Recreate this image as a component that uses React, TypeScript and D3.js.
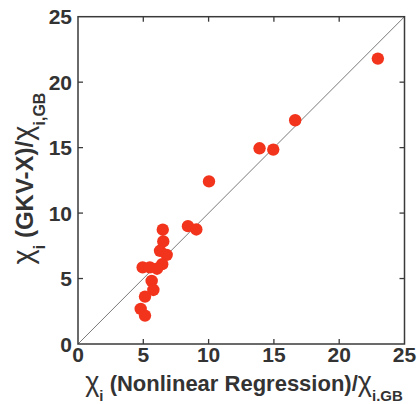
import React from "react";
import * as d3 from "d3";

const xValues = [22.96, 16.63, 13.9, 14.95, 10.03, 8.42, 9.06, 6.49, 6.53, 6.28, 6.79, 6.45, 6.05, 4.95, 5.5, 5.64, 5.77, 5.13, 4.8, 5.13];
const yValues = [21.8, 17.09, 14.95, 14.85, 12.42, 9.0, 8.75, 8.73, 7.83, 7.12, 6.81, 6.1, 5.75, 5.85, 5.85, 4.82, 4.13, 3.62, 2.68, 2.17];
const tickValues = [0, 5, 10, 15, 20, 25];
const domainMin = 0;
const domainMax = 25;

const W = 417;
const H = 404;
const left = 78;
const right = 404.5;
const top = 16.7;
const bottom = 344;

export default function App() {
  const x = d3.scaleLinear().domain([domainMin, domainMax]).range([left, right]);
  const y = d3.scaleLinear().domain([domainMin, domainMax]).range([bottom, top]);
  const font = "'Liberation Sans', Arial, Helvetica, sans-serif";
  const axisColor = "#3a3a3a";
  const textColor = "#333";
  const tickLen = 5;
  const inner = tickValues.filter((t) => t > domainMin && t < domainMax);

  return (
    <svg width={W} height={H} style={{ position: "absolute", left: 0, top: 0 }}>
      <rect width={W} height={H} fill="#fff" />
      <line x1={x(0)} y1={y(0)} x2={x(25)} y2={y(25)} stroke="#7a7a7a" strokeWidth={1} />
      {xValues.map((v, i) => (
        <circle key={i} cx={x(v)} cy={y(yValues[i])} r={6.2} fill="#f2341d" />
      ))}
      <rect x={left} y={top} width={right - left} height={bottom - top} fill="none" stroke={axisColor} strokeWidth={1.5} />
      {inner.map((t) => (
        <g key={t} stroke={axisColor} strokeWidth={1.3}>
          <line x1={x(t)} x2={x(t)} y1={bottom} y2={bottom - tickLen} />
          <line x1={x(t)} x2={x(t)} y1={top} y2={top + tickLen} />
          <line x1={left} x2={left + tickLen} y1={y(t)} y2={y(t)} />
          <line x1={right} x2={right - tickLen} y1={y(t)} y2={y(t)} />
        </g>
      ))}
      {tickValues.map((t) => (
        <text key={"x" + t} x={x(t)} y={362} textAnchor="middle" fontFamily={font} fontWeight="bold" fontSize={21} fill={textColor}>
          {t}
        </text>
      ))}
      {tickValues.map((t) => (
        <text key={"y" + t} x={72} y={y(t)} dy="0.36em" textAnchor="end" fontFamily={font} fontWeight="bold" fontSize={21} fill={textColor}>
          {t}
        </text>
      ))}
      <text x={244} y={391} textAnchor="middle" fontFamily={font} fontWeight="bold" fontSize={22} fill={textColor}>
        <tspan fontWeight="normal" fontSize={27}>χ</tspan>
        <tspan fontSize={15} dy={10}>i</tspan>
        <tspan dy={-10}> (Nonlinear Regression)/</tspan>
        <tspan fontWeight="normal" fontSize={27}>χ</tspan>
        <tspan fontSize={15} dy={10}>i.GB</tspan>
      </text>
      <text transform={`translate(33,178.5) rotate(-90)`} textAnchor="middle" fontFamily={font} fontWeight="bold" fontSize={24} fill={textColor}>
        <tspan fontWeight="normal" fontSize={29}>χ</tspan>
        <tspan fontSize={16} dy={12}>i</tspan>
        <tspan dy={-12}> (GKV-X)/</tspan>
        <tspan fontWeight="normal" fontSize={29}>χ</tspan>
        <tspan fontSize={16} dy={12}>i,GB</tspan>
      </text>
    </svg>
  );
}
